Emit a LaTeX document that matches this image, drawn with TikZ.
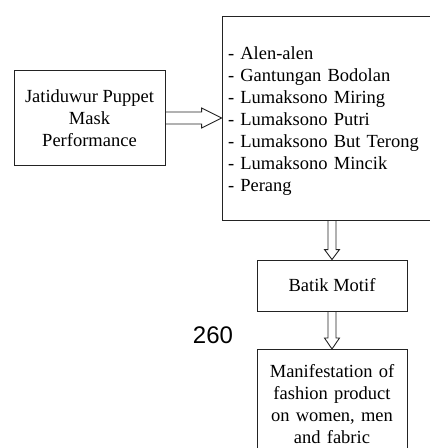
\documentclass[tikz,border=0pt]{standalone}
\usepackage{fontspec}
\setmainfont{Liberation Serif}
\newfontfamily\numfont{Liberation Sans}
\usepackage{tikz}
\usetikzlibrary{calc,positioning}
\usepackage{xcolor}
\definecolor{boxline}{RGB}{35,35,35}
\tikzstyle{box} = [draw=boxline, line width=0.9pt, inner sep=0pt, font=\fontsize{18.5}{22}\selectfont]
\tikzstyle{hollow} = [draw=boxline, line width=0.9pt]

\begin{document}
\begin{tikzpicture}[x=1pt, y=-1pt]
\useasboundingbox (0,0) rectangle (430,448);
\clip (0,0) rectangle (430,448);
% Performance and its motifs
\node[box, minimum width=151pt, minimum height=95pt, align=center] (perf) at (89.5,118) {Jatiduwur Puppet\\Mask\\Performance};
\node[box, minimum width=220pt, minimum height=204pt, text width=208pt, inner xsep=6pt, align=left] (motifs) at (332,118) {\rule{0pt}{18pt}- Alen-alen\\- Gantungan Bodolan\\- Lumaksono Miring\\- Lumaksono Putri\\- Lumaksono But Terong\\- Lumaksono Mincik\\- Perang};

% Batik and product
\node[box, minimum width=150pt, minimum height=51pt] (batik) at (332,285.5) {Batik Motif};
\node[box, anchor=north, text width=150pt, inner ysep=15pt, align=center] (product) at (332,349) {Manifestation of\\fashion product\\on women, men\\and fabric};
\node[font=\numfont\fontsize{24}{28}\selectfont] (num) at (213,335.5) {260};

% Hollow arrows
\draw[hollow] ($(perf.east)+(0,-6)$) -- ($(motifs.west)+(-20,-6)$) -- ($(motifs.west)+(-20,-10)$) -- (motifs.west) -- ($(motifs.west)+(-20,10)$) -- ($(motifs.west)+(-20,6)$) -- ($(perf.east)+(0,6)$);
\draw[hollow] ($(motifs.south)+(-4,0)$) -- ($(batik.north)+(-4,-10)$) -- ($(batik.north)+(-7.5,-10)$) -- (batik.north) -- ($(batik.north)+(7.5,-10)$) -- ($(batik.north)+(4,-10)$) -- ($(motifs.south)+(4,0)$);
\draw[hollow] ($(batik.south)+(-4,0)$) -- ($(product.north)+(-4,-11)$) -- ($(product.north)+(-7.5,-11)$) -- (product.north) -- ($(product.north)+(7.5,-11)$) -- ($(product.north)+(4,-11)$) -- ($(batik.south)+(4,0)$);
\end{tikzpicture}
\end{document}
